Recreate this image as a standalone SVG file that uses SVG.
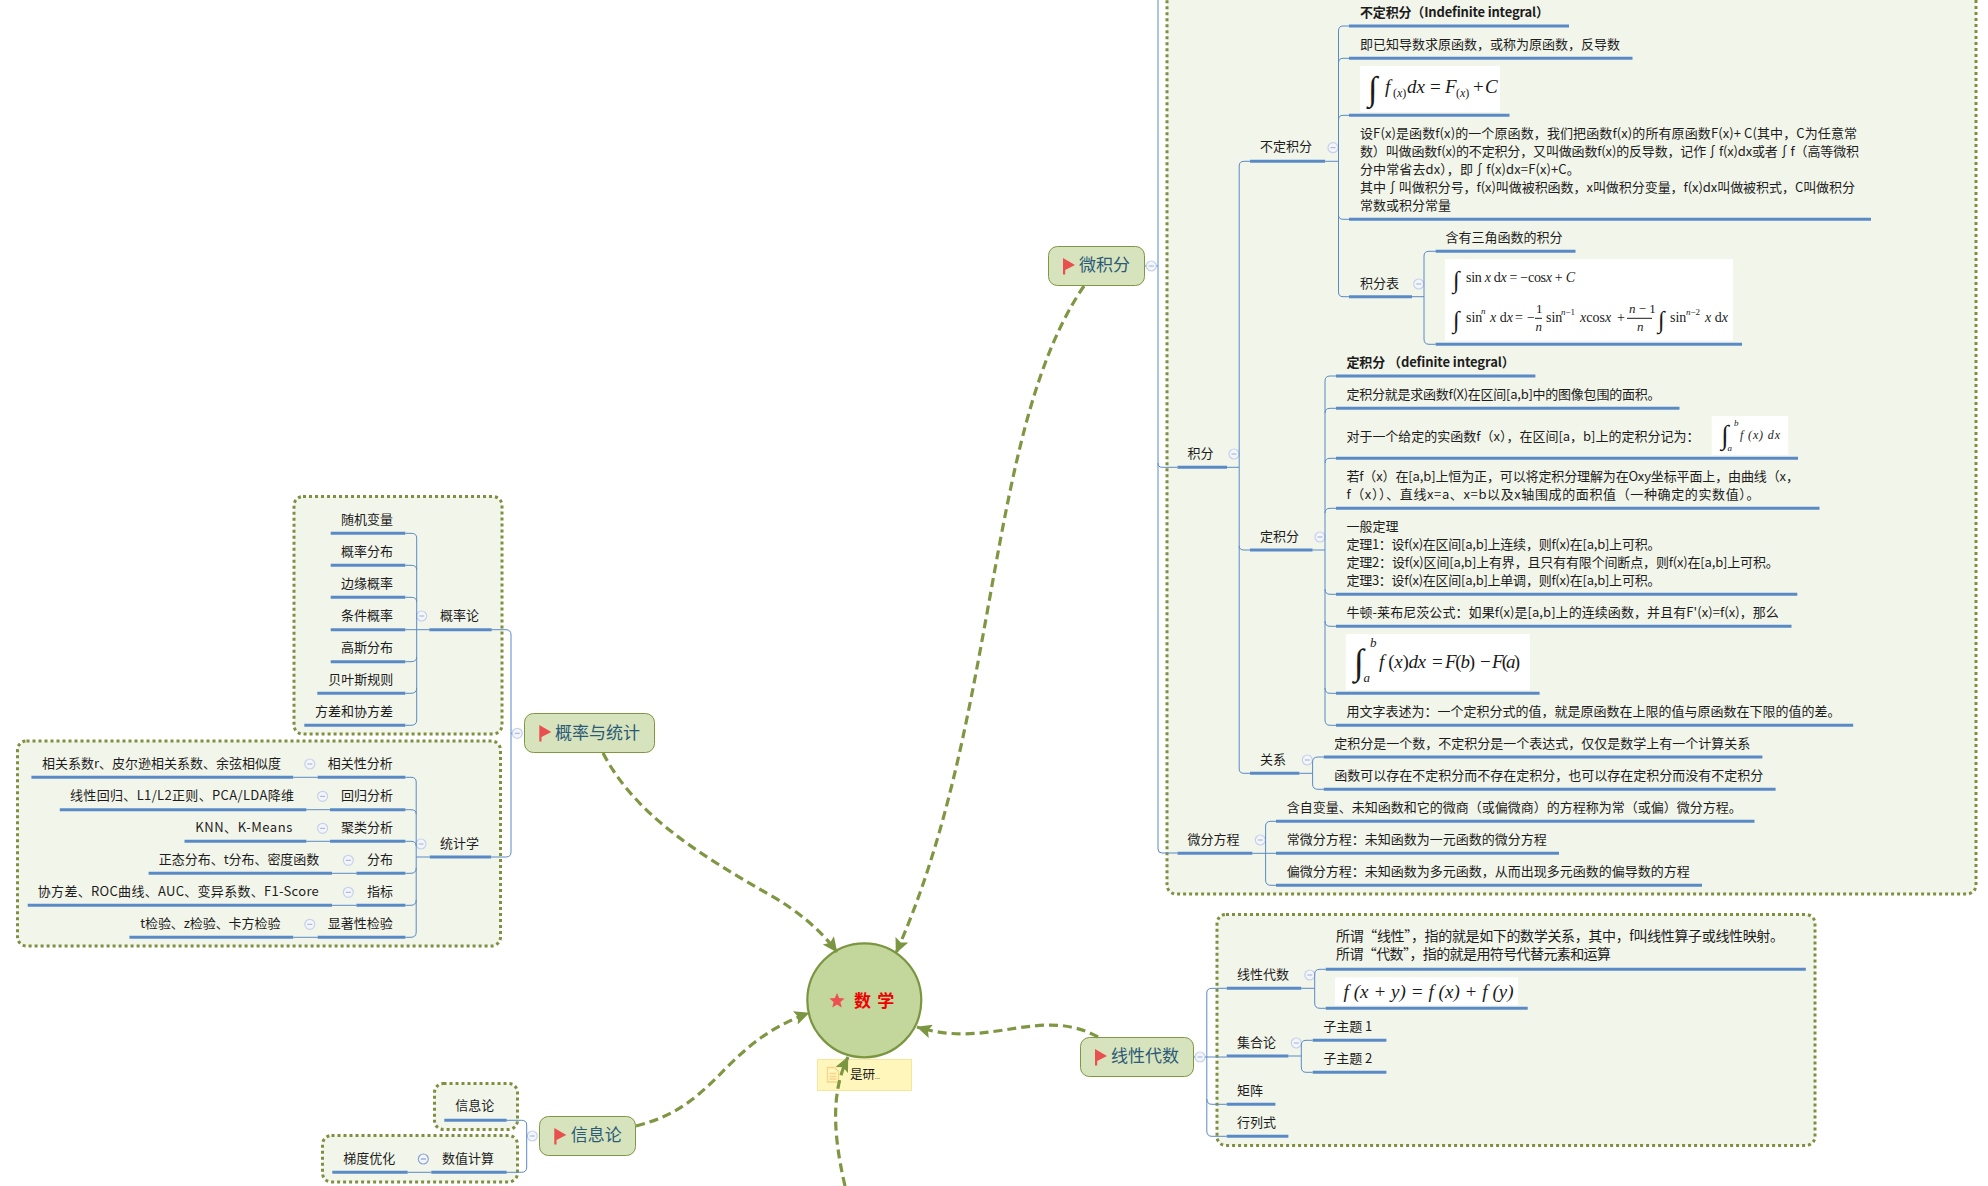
<svg xmlns="http://www.w3.org/2000/svg" width="1988" height="1186" viewBox="0 0 1988 1186">
<style>
text{font-family:"Noto Sans CJK SC","Noto Sans",sans-serif;font-size:13px;fill:#1c1c1c}
text:not(.m):not(.int){transform:translateY(-1px)}
.b{font-weight:700}
.topic{font-size:17px;fill:#2b5a78}
.root{font-size:17px;font-weight:700;fill:#f00000;word-spacing:2.5px}
.u{stroke:#5a8ac6;stroke-width:3;fill:none}
.c{stroke:#5a8ac6;stroke-width:1;fill:none}
.box{fill:#f2f5ea;stroke:#7f8f3f;stroke-width:3;stroke-dasharray:3 3}
.tn{fill:#d7e3bc;stroke:#7f9642;stroke-width:1}
.w{fill:#fff;stroke:none}
.a{stroke:#7f9642;stroke-width:3.2;fill:none;stroke-dasharray:9 5;marker-end:url(#arr)}
.m{font-family:"Liberation Serif",serif;fill:#1a1a1a}
.i{font-style:italic}
.int{font-family:"Liberation Serif",serif;fill:#1a1a1a}
</style>
<defs>
<marker id="arr" markerUnits="userSpaceOnUse" markerWidth="16" markerHeight="14" refX="14.5" refY="7" orient="auto"><path d="M0 0L15 7L0 14L3 7Z" fill="#7a9640"/></marker>
<g id="ic"><circle r="5" fill="#f3f5fb" stroke="#c6d1ea" stroke-width="1.2"/><path d="M-2.5 0H2.5" stroke="#9fb0d0" stroke-width="1"/></g>
<g id="ic2"><circle r="5" fill="#f3f5fb" stroke="#8aa5d4" stroke-width="1.2"/><path d="M-2.5 0H2.5" stroke="#6d8cc4" stroke-width="1"/></g>
<path id="fl" d="M0 0L12 7L2.2 12V16.5H0Z" fill="#ea4f4f"/>
</defs>
<rect width="1988" height="1186" fill="#fff"/>
<g id="boundaries">
<rect class="box" x="1167" y="-20" width="809" height="914" rx="9"/>
<rect class="box" x="1217" y="914.5" width="598" height="231" rx="9"/>
<rect class="box" x="294" y="496.5" width="208" height="237.5" rx="9"/>
<rect class="box" x="17.5" y="741" width="483" height="205" rx="9"/>
<rect class="box" x="434.5" y="1083.5" width="83" height="46" rx="9"/>
<rect class="box" x="322.5" y="1135.5" width="195" height="46.5" rx="9"/>
</g>
<g id="root"><circle cx="864.3" cy="1000.3" r="57" fill="#c3d69b" stroke="#7a9640" stroke-width="2.2"/>
<polygon points="837,993 839.1,998.1 844.6,998.5 840.4,1002.1 841.7,1007.5 837,1004.6 832.3,1007.5 833.6,1002.1 829.4,998.5 834.9,998.1" fill="#ee5050"/>
<text class="root" x="854" y="1007.5">数 学</text></g>
<g id="note"><rect x="817.5" y="1059.5" width="94" height="31" fill="#fff6bb" stroke="#f6e59a"/>
<path d="M827.5 1067.5h7l4 4v10.5h-11z" fill="none" stroke="#f7d48a" stroke-width="1.3"/><path d="M829.5 1073.5h7M829.5 1076.5h7M829.5 1079h7" stroke="#f7d48a" stroke-width="1.3"/>
<text x="850" y="1079.5" style="font-size:12.5px">是研<tspan style="font-size:6px">...</tspan></text></g>
<g id="t-calc"><rect class="tn" x="1048.5" y="246.5" width="96" height="39" rx="9"/><use href="#fl" x="1063" y="258"/><text class="topic" x="1079" y="272">微积分</text><use href="#ic" x="1151.3" y="266"/></g>
<g id="t-prob"><rect class="tn" x="524.5" y="713.5" width="130" height="39" rx="9"/><use href="#fl" x="539.3" y="725"/><text class="topic" x="555" y="739.5">概率与统计</text><use href="#ic" x="517.3" y="733.3"/></g>
<g id="t-info"><rect class="tn" x="539.5" y="1116.5" width="96" height="39" rx="9"/><use href="#fl" x="554.3" y="1128"/><text class="topic" x="570.7" y="1142">信息论</text><use href="#ic" x="532.3" y="1136"/></g>
<g id="t-lin"><rect class="tn" x="1080.5" y="1037.5" width="113" height="39" rx="9"/><use href="#fl" x="1095" y="1049"/><text class="topic" x="1111" y="1063">线性代数</text><use href="#ic" x="1200" y="1057"/></g>

<g id="n-jifen"><text x="1187.5" y="458.5">积分</text><line class="u" x1="1177.4" y1="467.3" x2="1227" y2="467.3"/><use href="#ic" x="1234" y="454"/></g>
<g id="n-bdjf"><text x="1260" y="152.2">不定积分</text><line class="u" x1="1250" y1="161.3" x2="1325" y2="161.3"/><use href="#ic" x="1333" y="147.7"/></g>
<g id="n-b1"><text class="b" x="1360" y="17.5" textLength="189">不定积分（Indefinite integral）</text><line class="u" x1="1349" y1="26" x2="1569" y2="26"/></g>
<g id="n-b2"><text x="1360" y="49.5">即已知导数求原函数，或称为原函数，反导数</text><line class="u" x1="1349" y1="58.3" x2="1632.5" y2="58.3"/></g>
<g id="n-b3"><rect class="w" x="1360" y="66" width="140" height="46"/>
<text class="int" x="1368" y="100" style="font-size:34px">∫</text>
<text class="m i" x="1385" y="93" style="font-size:19px">f</text><text class="m" x="1393" y="97" style="font-size:12px">(<tspan class="i">x</tspan>)</text>
<text class="m i" x="1407" y="93" style="font-size:19px">dx</text><text class="m" x="1430" y="93" style="font-size:19px">=</text><text class="m i" x="1445" y="93" style="font-size:19px">F</text>
<text class="m" x="1456" y="97" style="font-size:12px">(<tspan class="i">x</tspan>)</text><text class="m" x="1473" y="93" style="font-size:19px">+</text><text class="m i" x="1485" y="93" style="font-size:19px">C</text>
<line class="u" x1="1349" y1="115.3" x2="1509.5" y2="115.3"/></g>
<g id="n-b4"><text x="1360" y="138.5" textLength="497">设F(x)是函数f(x)的一个原函数，我们把函数f(x)的所有原函数F(x)+ C(其中，C为任意常</text>
<text x="1360" y="156.5" textLength="499">数）叫做函数f(x)的不定积分，又叫做函数f(x)的反导数，记作∫f(x)dx或者∫f（高等微积</text>
<text x="1360" y="174.5" textLength="219.7">分中常省去dx），即∫f(x)dx=F(x)+C。</text>
<text x="1360" y="192.5" textLength="495">其中∫叫做积分号，f(x)叫做被积函数，x叫做积分变量，f(x)dx叫做被积式，C叫做积分</text>
<text x="1360" y="210.5">常数或积分常量</text>
<line class="u" x1="1349" y1="219.3" x2="1871" y2="219.3"/></g>
<g id="n-b5"><text x="1360" y="288.5">积分表</text><line class="u" x1="1349" y1="296.7" x2="1412" y2="296.7"/><use href="#ic" x="1418.7" y="284"/></g>
<g id="n-b51"><text x="1445.6" y="242.5">含有三角函数的积分</text><line class="u" x1="1435.6" y1="251.3" x2="1575.5" y2="251.3"/></g>
<g id="n-b52"><rect class="w" x="1445" y="259" width="288" height="81.7"/>
<text class="int" x="1453" y="288" style="font-size:24px">∫</text>
<text class="m" x="1466" y="282.3" style="font-size:14px" textLength="109">sin <tspan class="i">x</tspan> d<tspan class="i">x</tspan> = −cos<tspan class="i">x</tspan> + <tspan class="i">C</tspan></text>
<text class="int" x="1453" y="328" style="font-size:24px">∫</text>
<text class="m" x="1466" y="322.3" style="font-size:14px">sin</text><text class="m i" x="1481" y="314" style="font-size:9px">n</text>
<text class="m" x="1490" y="322.3" style="font-size:14px"><tspan class="i">x</tspan> d<tspan class="i">x</tspan></text><text class="m" x="1515" y="322.3" style="font-size:14px">=</text><text class="m" x="1527" y="322.3" style="font-size:14px">−</text>
<text class="m" x="1536" y="313" style="font-size:13px">1</text><line x1="1535" y1="318.3" x2="1542" y2="318.3" stroke="#1a1a1a"/><text class="m i" x="1535.5" y="331" style="font-size:13px">n</text>
<text class="m" x="1546" y="322.3" style="font-size:14px">sin</text><text class="m" x="1561" y="315" style="font-size:9px"><tspan class="i">n</tspan>−1</text>
<text class="m" x="1580" y="322.3" style="font-size:14px"><tspan class="i">x</tspan>cos<tspan class="i">x</tspan></text><text class="m" x="1617" y="322.3" style="font-size:14px">+</text>
<text class="m" x="1629" y="313" style="font-size:13px"><tspan class="i">n</tspan> − 1</text><line x1="1627" y1="318.3" x2="1652" y2="318.3" stroke="#1a1a1a"/><text class="m i" x="1637" y="331" style="font-size:13px">n</text>
<text class="int" x="1658" y="328" style="font-size:24px">∫</text>
<text class="m" x="1670" y="322.3" style="font-size:14px">sin</text><text class="m" x="1686" y="315" style="font-size:9px"><tspan class="i">n</tspan>−2</text>
<text class="m" x="1705" y="322.3" style="font-size:14px"><tspan class="i">x</tspan> d<tspan class="i">x</tspan></text>
<line class="u" x1="1435.6" y1="344.3" x2="1742" y2="344.3"/></g>

<g id="n-djf"><text x="1260" y="541.8">定积分</text><line class="u" x1="1250" y1="550" x2="1312.6" y2="550"/><use href="#ic" x="1320" y="537"/></g>
<g id="n-d1"><text class="b" x="1346.4" y="367.8" textLength="168.4">定积分 （definite integral）</text><line class="u" x1="1336" y1="376" x2="1535.4" y2="376"/></g>
<g id="n-d2"><text x="1346.4" y="399.5" textLength="314">定积分就是求函数f(X)在区间[a,b]中的图像包围的面积。</text><line class="u" x1="1336" y1="408.3" x2="1679.5" y2="408.3"/></g>
<g id="n-d3"><text x="1346.4" y="442.2" textLength="353">对于一个给定的实函数f（x），在区间[a，b]上的定积分记为：</text><rect class="w" x="1711.7" y="416" width="76.6" height="39"/>
<text class="int" x="1721" y="444" style="font-size:27px">∫</text><text class="m i" x="1734" y="426" style="font-size:9px">b</text><text class="m i" x="1727.5" y="451" style="font-size:9px">a</text>
<text class="m i" x="1740" y="439" style="font-size:12px" textLength="40">f (x) dx</text>
<line class="u" x1="1336" y1="458.3" x2="1798" y2="458.3"/></g>
<g id="n-d4"><text x="1346.4" y="481.8" textLength="452.5">若f（x）在[a,b]上恒为正，可以将定积分理解为在Oxy坐标平面上，由曲线（x，</text><text x="1346.4" y="499.8" textLength="413">f（x））、直线x=a、x=b以及x轴围成的面积值（一种确定的实数值）。</text><line class="u" x1="1336" y1="508.3" x2="1819.5" y2="508.3"/></g>
<g id="n-d5"><text x="1346.4" y="531.8">一般定理</text><text x="1346.4" y="550.2" textLength="314">定理1：设f(x)在区间[a,b]上连续，则f(x)在[a,b]上可积。</text><text x="1346.4" y="568.2" textLength="432.4">定理2：设f(x)区间[a,b]上有界，且只有有限个间断点，则f(x)在[a,b]上可积。</text><text x="1346.4" y="586.2" textLength="314">定理3：设f(x)在区间[a,b]上单调，则f(x)在[a,b]上可积。</text><line class="u" x1="1336" y1="594.3" x2="1797.3" y2="594.3"/></g>
<g id="n-d6"><text x="1346.4" y="617.8" textLength="432.4">牛顿-莱布尼茨公式：如果f(x)是[a,b]上的连续函数，并且有F'(x)=f(x)，那么</text><line class="u" x1="1336" y1="626.3" x2="1791.5" y2="626.3"/></g>
<g id="n-d7"><rect class="w" x="1345.8" y="634" width="184.2" height="56"/>
<text class="int" x="1354" y="674" style="font-size:36px">∫</text><text class="m i" x="1370" y="647" style="font-size:13px">b</text><text class="m i" x="1363.5" y="682" style="font-size:13px">a</text>
<text class="m" x="1379" y="667.7" style="font-size:19px" textLength="47"><tspan class="i">f</tspan> (<tspan class="i">x</tspan>)<tspan class="i">dx</tspan></text><text class="m" x="1432" y="667.7" style="font-size:19px">=</text><text class="m" x="1445" y="667.7" style="font-size:19px" textLength="30"><tspan class="i">F</tspan>(<tspan class="i">b</tspan>)</text><text class="m" x="1480" y="667.7" style="font-size:19px">−</text><text class="m" x="1492" y="667.7" style="font-size:19px" textLength="28"><tspan class="i">F</tspan>(<tspan class="i">a</tspan>)</text>
<line class="u" x1="1336" y1="693.3" x2="1539.6" y2="693.3"/></g>
<g id="n-d8"><text x="1346.4" y="716.5">用文字表述为：一个定积分式的值，就是原函数在上限的值与原函数在下限的值的差。</text><line class="u" x1="1336" y1="725.3" x2="1853.2" y2="725.3"/></g>
<g id="n-gx"><text x="1260" y="764.5">关系</text><line class="u" x1="1250" y1="773.3" x2="1299.4" y2="773.3"/><use href="#ic" x="1307.3" y="760"/></g>
<g id="n-g1"><text x="1334.2" y="748.8">定积分是一个数，不定积分是一个表达式，仅仅是数学上有一个计算关系</text><line class="u" x1="1323.7" y1="757" x2="1762.4" y2="757"/></g>
<g id="n-g2"><text x="1334.2" y="780.5">函数可以存在不定积分而不存在定积分，也可以存在定积分而没有不定积分</text><line class="u" x1="1323.7" y1="789.3" x2="1775.6" y2="789.3"/></g>
<g id="n-wf"><text x="1187.5" y="844.5">微分方程</text><line class="u" x1="1177.4" y1="853.3" x2="1252.4" y2="853.3"/><use href="#ic" x="1260.3" y="840"/></g>
<g id="n-w1"><text x="1286.7" y="812.8">含自变量、未知函数和它的微商（或偏微商）的方程称为常（或偏）微分方程。</text><line class="u" x1="1276" y1="821.3" x2="1754.5" y2="821.3"/></g>
<g id="n-w2"><text x="1286.7" y="844.5">常微分方程：未知函数为一元函数的微分方程</text><line class="u" x1="1276" y1="853.3" x2="1559" y2="853.3"/></g>
<g id="n-w3"><text x="1286.7" y="876.8">偏微分方程：未知函数为多元函数，从而出现多元函数的偏导数的方程</text><line class="u" x1="1276" y1="885.3" x2="1702" y2="885.3"/></g>

<g id="n-x"><text x="1237" y="979.8">线性代数</text><line class="u" x1="1226.7" y1="988.3" x2="1301.3" y2="988.3"/><use href="#ic" x="1309.8" y="975"/></g>
<g id="n-x1"><text x="1336" y="941.8" style="font-size:14px" textLength="448">所谓“线性”，指的就是如下的数学关系，其中，f叫线性算子或线性映射。</text><text x="1336" y="959.8" style="font-size:14px" textLength="275">所谓“代数”，指的就是用符号代替元素和运算</text><line class="u" x1="1325.7" y1="969.3" x2="1805.8" y2="969.3"/></g>
<g id="n-x2"><rect class="w" x="1335" y="977.3" width="183" height="28"/><text class="m i" x="1343.6" y="997.7" style="font-size:19px" textLength="170">f (x + y) = f (x) + f (y)</text><line class="u" x1="1325.7" y1="1008.3" x2="1527.7" y2="1008.3"/></g>
<g id="n-j"><text x="1237" y="1047.8">集合论</text><line class="u" x1="1226.7" y1="1056" x2="1288.4" y2="1056"/><use href="#ic" x="1296.3" y="1043"/></g>
<g id="n-j1"><text x="1323.2" y="1031.5">子主题 1</text><line class="u" x1="1312.7" y1="1040.3" x2="1386.4" y2="1040.3"/></g>
<g id="n-j2"><text x="1323.2" y="1063.5">子主题 2</text><line class="u" x1="1312.7" y1="1072.3" x2="1386.4" y2="1072.3"/></g>
<g id="n-jz"><text x="1237" y="1095.5">矩阵</text><line class="u" x1="1226.7" y1="1104.3" x2="1275.4" y2="1104.3"/></g>
<g id="n-hl"><text x="1237" y="1127.5">行列式</text><line class="u" x1="1226.7" y1="1136.3" x2="1288.4" y2="1136.3"/></g>

<g id="n-gl"><text x="440" y="620.5">概率论</text><line class="u" x1="429.3" y1="629.7" x2="491.7" y2="629.7"/><use href="#ic" x="421.7" y="616"/></g>
<g id="n-p1"><text x="341" y="524.5">随机变量</text><line class="u" x1="330.7" y1="533.3" x2="405.3" y2="533.3"/></g>
<g id="n-p2"><text x="341" y="556.5">概率分布</text><line class="u" x1="330.7" y1="565.3" x2="405.3" y2="565.3"/></g>
<g id="n-p3"><text x="341" y="588.5">边缘概率</text><line class="u" x1="330.7" y1="597.3" x2="405.3" y2="597.3"/></g>
<g id="n-p4"><text x="341" y="620.5">条件概率</text><line class="u" x1="330.7" y1="629.7" x2="405.3" y2="629.7"/></g>
<g id="n-p5"><text x="341" y="652.5">高斯分布</text><line class="u" x1="330.7" y1="661.7" x2="405.3" y2="661.7"/></g>
<g id="n-p6"><text x="328.3" y="684.5">贝叶斯规则</text><line class="u" x1="317.3" y1="693.3" x2="405.3" y2="693.3"/></g>
<g id="n-p7"><text x="315" y="716.5">方差和协方差</text><line class="u" x1="304.3" y1="725.3" x2="405.3" y2="725.3"/></g>

<g id="n-tj"><text x="440" y="848.5">统计学</text><line class="u" x1="429.7" y1="857" x2="491.2" y2="857"/><use href="#ic" x="421" y="844"/></g>
<g id="n-s1"><text x="327.7" y="768.5">相关性分析</text><line class="u" x1="317.6" y1="777.3" x2="405.4" y2="777.3"/><use href="#ic" x="309.8" y="764"/><text x="41.9" y="768.5" textLength="239">相关系数r、皮尔逊相关系数、余弦相似度</text><line class="u" x1="31.4" y1="777.3" x2="293.2" y2="777.3"/></g>
<g id="n-s2"><text x="341" y="800.8">回归分析</text><line class="u" x1="330" y1="809.7" x2="405.4" y2="809.7"/><use href="#ic" x="322.6" y="796.3"/><text x="70" y="800.8" textLength="224">线性回归、L1/L2正则、PCA/LDA降维</text><line class="u" x1="59.8" y1="809.7" x2="306.4" y2="809.7"/></g>
<g id="n-s3"><text x="341" y="832.8">聚类分析</text><line class="u" x1="330" y1="841.3" x2="405.4" y2="841.3"/><use href="#ic" x="322.6" y="828.3"/><text x="195.3" y="832.8" textLength="97">KNN、K-Means</text><line class="u" x1="184.5" y1="841.3" x2="306.4" y2="841.3"/></g>
<g id="n-s4"><text x="367" y="864.8">分布</text><line class="u" x1="356.4" y1="873.3" x2="405.4" y2="873.3"/><use href="#ic" x="348.3" y="860.3"/><text x="158.8" y="864.8" textLength="160.5">正态分布、t分布、密度函数</text><line class="u" x1="148.6" y1="873.3" x2="332" y2="873.3"/></g>
<g id="n-s5"><text x="367" y="896.8">指标</text><line class="u" x1="356.4" y1="905.3" x2="405.4" y2="905.3"/><use href="#ic" x="348.3" y="892.3"/><text x="37.8" y="896.8" textLength="281">协方差、ROC曲线、AUC、变异系数、F1-Score</text><line class="u" x1="27.7" y1="905.3" x2="332" y2="905.3"/></g>
<g id="n-s6"><text x="327.7" y="928.8">显著性检验</text><line class="u" x1="317.6" y1="937.3" x2="405.4" y2="937.3"/><use href="#ic" x="309.8" y="924.3"/><text x="140.2" y="928.8" textLength="140.2">t检验、z检验、卡方检验</text><line class="u" x1="129.4" y1="937.3" x2="293.2" y2="937.3"/></g>

<g id="n-xx"><text x="455.3" y="1111.2">信息论</text><line class="u" x1="444.3" y1="1120.3" x2="506.7" y2="1120.3"/></g>
<g id="n-sz"><text x="442" y="1163.5">数值计算</text><line class="u" x1="431.3" y1="1172.3" x2="506.7" y2="1172.3"/><use href="#ic2" x="423.3" y="1159"/><text x="343.3" y="1163.5">梯度优化</text><line class="u" x1="332.3" y1="1172.3" x2="407.7" y2="1172.3"/></g>

<g id="connectors">
<path class="c" d="M1145 266H1146M1156.5 266H1158M1158 0V849Q1158 853 1162 853H1177M1158 463Q1158 467.3 1162 467.3H1177"/>
<path class="c" d="M1227 467.3H1239M1250 161.3H1244Q1239.2 161.3 1239.2 166V769Q1239.2 773.3 1244 773.3H1250M1239.2 546Q1239.2 550 1244 550H1250"/>
<path class="c" d="M1325 161.3H1338.5M1349 26H1343Q1338.5 26 1338.5 31V292Q1338.5 296.7 1343 296.7H1349M1349 58.3H1343Q1338.5 58.3 1338.5 63M1349 115.3H1343Q1338.5 115.3 1338.5 120M1338.5 215Q1338.5 219.3 1343 219.3H1349"/>
<path class="c" d="M1412 296.7H1424M1435.6 251.3H1429Q1424 251.3 1424 256V339Q1424 344.3 1429 344.3H1435.6"/>
<path class="c" d="M1312.6 550H1325M1336 376H1330Q1325 376 1325 381V720Q1325 725.3 1330 725.3H1336M1336 408.3H1330Q1325 408.3 1325 413M1336 458.3H1330Q1325 458.3 1325 463M1336 508.3H1330Q1325 508.3 1325 513M1325 589Q1325 594.3 1330 594.3H1336M1325 621Q1325 626.3 1330 626.3H1336M1325 688Q1325 693.3 1330 693.3H1336"/>
<path class="c" d="M1299.4 773.3H1312.6M1323.7 757H1318Q1312.6 757 1312.6 762V784Q1312.6 789.3 1318 789.3H1323.7"/>
<path class="c" d="M1252.4 853.3H1276M1276 821.3H1271Q1265.6 821.3 1265.6 826V880Q1265.6 885.3 1271 885.3H1276"/>
<path class="c" d="M1194 1057H1195M1205 1057H1226.7M1226.7 988.3H1212Q1206.8 988.3 1206.8 993V1131Q1206.8 1136.3 1212 1136.3H1226.7M1206.8 1099Q1206.8 1104.3 1212 1104.3H1226.7"/>
<path class="c" d="M1301.3 988.3H1314.7M1325.7 969.3H1320Q1314.7 969.3 1314.7 974V1003Q1314.7 1008.3 1320 1008.3H1325.7"/>
<path class="c" d="M1288.4 1056H1301.3M1312.7 1040.3H1306Q1301.3 1040.3 1301.3 1045V1067Q1301.3 1072.3 1306 1072.3H1312.7"/>
<path class="c" d="M405.3 533.3H411Q416.7 533.3 416.7 538V720Q416.7 725.3 411 725.3H405.3M405.3 565.3H411Q416.7 565.3 416.7 570M405.3 597.3H411Q416.7 597.3 416.7 602M405.3 629.7H429.3M416.7 657Q416.7 661.7 411 661.7H405.3M416.7 688Q416.7 693.3 411 693.3H405.3"/>
<path class="c" d="M491.7 629.7H506Q511 629.7 511 635V852Q511 857 506 857H491.2M511 733.3H512"/>
<path class="c" d="M429.7 857H416.2M405.4 777.3H411Q416.2 777.3 416.2 782V932Q416.2 937.3 411 937.3H405.4M405.4 809.7H411Q416.2 809.7 416.2 814M405.4 841.3H411Q416.2 841.3 416.2 846M416.2 868Q416.2 873.3 411 873.3H405.4M416.2 900Q416.2 905.3 411 905.3H405.4"/>
<path class="c" d="M293.2 777.3H317.6M306.4 809.7H330M306.4 841.3H330M332 873.3H356.4M332 905.3H356.4M293.2 937.3H317.6"/>
<path class="c" d="M506.7 1120.3H521.5Q526.7 1120.3 526.7 1125V1167Q526.7 1172.3 521.5 1172.3H506.7M526.7 1136H527.3M407.7 1172.3H431.3"/>
<path class="a" d="M1084 286C985 430 1000 720 896 953"/>
<path class="a" d="M603 753C635 815 700 855 770 895C800 912 822 932 837 952"/>
<path class="a" d="M636 1126C720 1105 720 1045 809 1013"/>
<path class="a" d="M1098 1037C1040 1005 990 1050 917 1027"/>
<path class="a" d="M845 1186C832 1130 832 1090 848 1057"/>
</g>
</svg>
